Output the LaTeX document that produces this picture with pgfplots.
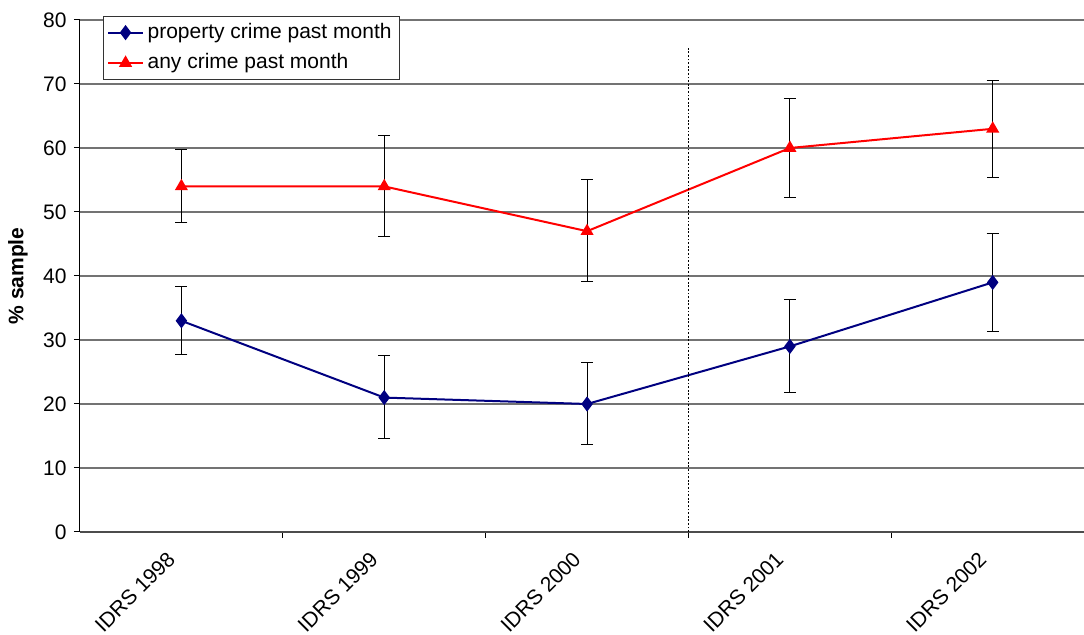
\documentclass[border=0pt]{standalone}
\usepackage{fontspec}
\setmainfont{Liberation Sans}
\usepackage{pgfplots}
\pgfplotsset{compat=1.18}
\definecolor{navyc}{HTML}{000080}
\definecolor{redc}{HTML}{FF0000}
\begin{document}
\fontsize{10.5}{12.6}\selectfont
\begin{tikzpicture}
\begin{axis}[
  name=ax, at={(0,0)}, anchor=south west,
  scale only axis, width=502pt, height=256pt,
  xmin=-0.5, xmax=4.45, ymin=0, ymax=80,
  axis x line*=bottom, axis y line*=left,
  x axis line style={draw=black!70, line width=0.7pt},
  y axis line style={draw=black, line width=0.5pt},
  /pgf/number format/assume math mode=true,
  tick align=outside,
  xtick={0,1,2,3,4},
  xticklabels={IDRS 1998,IDRS 1999,IDRS 2000,IDRS 2001,IDRS 2002},
  major x tick style={draw=none},
  minor xtick={0.5,1.5,2.5,3.5},
  minor x tick style={draw=black, line width=0.5pt},
  minor tick length=3pt,
  major tick length=3pt,
  ytick={0,10,...,80},
  y tick style={draw=black, line width=0.5pt},
  ymajorgrids,
  major grid style={draw=black!55, line width=0.55pt},
  xticklabel style={xshift=-7.75pt, yshift=-1pt, rotate=45, anchor=north east, font=\fontsize{10.5}{12}\selectfont},
  yticklabel style={font=\fontsize{10.5}{12}\selectfont},
  ylabel={\textbf{\% sample}},
  ylabel style={at={(axis description cs:-0.0618,0.5)}, anchor=center, font=\fontsize{10.5}{12}\selectfont},
  legend cell align=left,
  legend style={at={(axis description cs:0.0229,1.008)}, anchor=north west,
    draw=black!80, line width=0.5pt, font=\fontsize{10.5}{12}\selectfont,
    inner xsep=2pt, inner ysep=1.5pt, row sep=2pt, legend image post style={line width=1pt}},
  error bars/y dir=both, error bars/y explicit,
  error bars/error bar style={black, line width=0.5pt},
  error bars/error mark options={rotate=90, mark size=3pt, black, line width=0.5pt},
  clip=false,
]
\addplot[navyc, line width=1pt, mark=diamond*, mark size=3pt, mark options={solid, fill=navyc}]
  coordinates {
  (0,33) += (0,5.3) -= (0,5.3)
  (1,21) += (0,6.5) -= (0,6.4)
  (2,20) += (0,6.5) -= (0,6.4)
  (3,29) += (0,7.25) -= (0,7.2)
  (4,39) += (0,7.7) -= (0,7.7)
  };
\addlegendentry{property crime past month}
\addplot[redc, line width=1pt, mark=triangle*, mark size=2.8pt, mark options={solid, fill=redc}]
  coordinates {
  (0,54) += (0,5.7) -= (0,5.7)
  (1,54) += (0,7.9) -= (0,7.9)
  (2,47) += (0,8.0) -= (0,7.9)
  (3,60) += (0,7.8) -= (0,7.7)
  (4,63) += (0,7.6) -= (0,7.6)
  };
\addlegendentry{any crime past month}
\draw[black, line width=0.9pt, dash pattern=on 0.9pt off 0.9pt] (axis cs:2.5,0) -- (axis cs:2.5,75.6);
\end{axis}
\pgfresetboundingbox
\path (-40pt,-51.5pt) rectangle (502pt,266pt);
\end{tikzpicture}
\end{document}
